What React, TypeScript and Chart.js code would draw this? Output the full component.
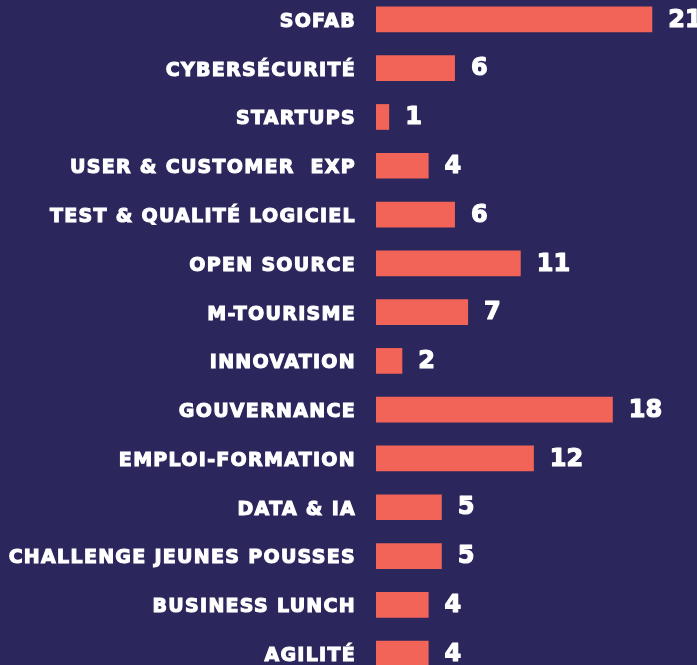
import React, { useEffect, useRef } from "react";
import { Chart, registerables } from "chart.js";

Chart.register(...registerables);

const categories = [
  "SOFAB",
  "CYBERSÉCURITÉ",
  "STARTUPS",
  "USER & CUSTOMER  EXP",
  "TEST & QUALITÉ LOGICIEL",
  "OPEN SOURCE",
  "M-TOURISME",
  "INNOVATION",
  "GOUVERNANCE",
  "EMPLOI-FORMATION",
  "DATA & IA",
  "CHALLENGE JEUNES POUSSES",
  "BUSINESS LUNCH",
  "AGILITÉ",
];

const values = [21, 6, 1, 4, 6, 11, 7, 2, 18, 12, 5, 5, 4, 4];

const BG = "#2B265C";
const BAR = "#F26457";

const labelShift = {
  id: "labelShift",
  beforeDraw(chart: any) {
    const ctx = chart.ctx;
    ctx.save();
    ctx.letterSpacing = "1.3px";
    ctx.translate(0, 2.5);
  },
  beforeDatasetsDraw(chart: any) {
    chart.ctx.restore();
  },
};

const valueLabels = {
  id: "valueLabels",
  afterDatasetsDraw(chart: any) {
    const ctx = chart.ctx;
    const meta = chart.getDatasetMeta(0);
    ctx.save();
    ctx.letterSpacing = "0px";
    ctx.fillStyle = "#FFFFFF";
    ctx.strokeStyle = "#FFFFFF";
    ctx.lineWidth = 1.2;
    ctx.lineJoin = "round";
    ctx.font = "bold 24px 'DejaVu Sans'";
    ctx.textAlign = "left";
    ctx.textBaseline = "middle";
    meta.data.forEach((el: any, i: number) => {
      const v = String(chart.data.datasets[0].data[i]);
      ctx.strokeText(v, el.x + 16, el.y + 1);
      ctx.fillText(v, el.x + 16, el.y + 1);
    });
    ctx.restore();
  },
};

export default function App() {
  const ref = useRef<HTMLCanvasElement | null>(null);

  useEffect(() => {
    document.body.style.margin = "0";
    document.body.style.background = BG;
    document.body.style.overflow = "hidden";
    const canvas = ref.current;
    if (!canvas) return;
    const chart = new Chart(canvas, {
      type: "bar",
      data: {
        labels: categories,
        datasets: [
          {
            data: values,
            backgroundColor: BAR,
            borderWidth: 0,
            categoryPercentage: 1,
            barPercentage: 0.527,
          },
        ],
      },
      options: {
        indexAxis: "y",
        responsive: false,
        animation: false,
        devicePixelRatio: 1,
        layout: { padding: 0 },
        plugins: {
          legend: { display: false },
          tooltip: { enabled: false },
          title: { display: false },
        },
        scales: {
          x: {
            display: false,
            min: 0,
            max: 24.4,
          },
          y: {
            afterFit: (scale: any) => {
              scale.width = 376;
              scale.paddingTop = 0;
              scale.paddingBottom = 0;
            },
            grid: { display: false, drawTicks: false },
            border: { display: false },
            ticks: {
              color: "#FFFFFF",
              padding: 20,
              autoSkip: false,
              textStrokeColor: "#FFFFFF",
              textStrokeWidth: 1.1,
              font: { family: "'DejaVu Sans'", size: 19, weight: "bold" },
            },
          },
        },
      },
      plugins: [labelShift, valueLabels],
    });
    return () => chart.destroy();
  }, []);

  return (
    <div
      style={{
        position: "absolute",
        left: 0,
        top: -5.5,
        width: 697,
        height: 683,
        background: BG,
      }}
    >
      <canvas ref={ref} width={697} height={683} style={{ display: "block" }} />
    </div>
  );
}
